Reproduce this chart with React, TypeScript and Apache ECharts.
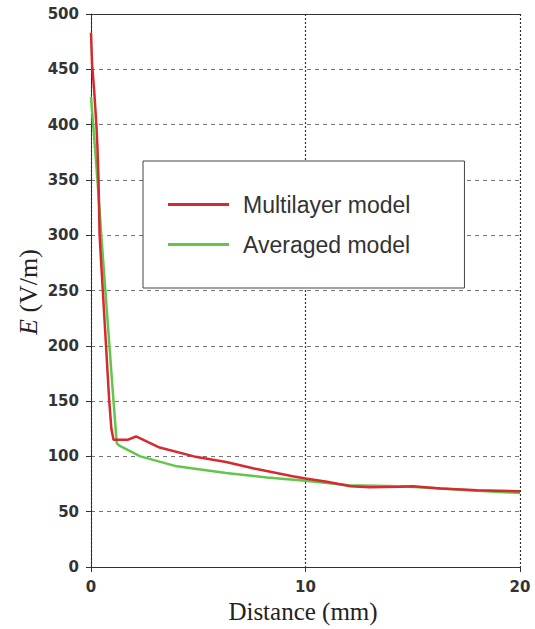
import React, { useEffect, useRef } from "react";
import * as echarts from "echarts";

const multilayerX = [0, 0.05, 0.15, 0.25, 0.3, 0.35, 0.4, 0.55, 0.7, 0.85, 0.95, 1.05, 1.7, 2.1, 3.2, 4.8, 6.3, 7.6, 9.4, 10, 11, 12.1, 13, 14.4, 15, 16.3, 18, 20];
const multilayerY = [483, 455, 430, 400, 380, 350, 300, 250, 200, 150, 125, 115, 115, 118, 108, 100, 95, 89, 82, 80, 77, 73, 72, 72.5, 73, 71, 69.5, 68.5];

const averagedX = [0, 0.1, 0.3, 0.48, 0.67, 0.86, 1.05, 1.2, 1.3, 2.3, 4, 6.3, 8.2, 10, 12, 14.4, 16.3, 18, 20];
const averagedY = [425, 400, 350, 300, 250, 200, 150, 112, 110, 100, 91, 85, 81, 78, 74, 73, 71, 69, 67];

const seriesNames = ["Multilayer model", "Averaged model"];
const xTitle = "Distance (mm)";
const yTitle = "{i|E} (V/m)";

const zip = (xs: number[], ys: number[]) => xs.map((x, i) => [x, ys[i]]);

export default function App() {
  const ref = useRef<HTMLDivElement>(null);
  useEffect(() => {
    if (!ref.current) return;
    const chart = echarts.init(ref.current, null, { renderer: "svg" });
    const tickFont = { fontFamily: "DejaVu Sans", fontSize: 15, fontWeight: "bold" as const, color: "#333" };
    chart.setOption({
      animation: false,
      backgroundColor: "#fff",
      grid: { left: 91, right: 15, top: 14, bottom: 62 },
      legend: {
        left: 143,
        top: 161,
        orient: "vertical",
        padding: [31, 54, 31, 25],
        itemGap: 15,
        itemWidth: 61,
        itemHeight: 3,
        icon: "rect",
        backgroundColor: "#fff",
        borderColor: "#444",
        borderWidth: 1,
        borderRadius: 0,
        textStyle: { fontFamily: "Liberation Sans", fontSize: 23, color: "#333", lineHeight: 25, padding: [0, 0, 0, 9] },
        data: seriesNames,
      },
      xAxis: [
        {
          type: "value",
          min: 0,
          max: 20,
          interval: 10,
          axisLine: { show: true, lineStyle: { color: "#333", width: 1 } },
          axisTick: { show: true, length: 5, lineStyle: { color: "#333" } },
          axisLabel: { ...tickFont, margin: 12 },
          splitLine: { show: true, lineStyle: { type: [2, 2], color: "#333", width: 1.2 } },
        },
        {
          type: "value",
          position: "top",
          min: 0,
          max: 20,
          axisLine: { show: true, onZero: false, lineStyle: { color: "#333", width: 1 } },
          axisTick: { show: false },
          axisLabel: { show: false },
          splitLine: { show: false },
        },
      ],
      yAxis: {
        type: "value",
        min: 0,
        max: 500,
        interval: 50,
        axisLine: { show: true, lineStyle: { color: "#333", width: 1 } },
        axisTick: { show: true, length: 5, lineStyle: { color: "#333" } },
        axisLabel: { ...tickFont, margin: 12 },
        splitLine: { show: true, lineStyle: { type: [4, 4], color: "#777", width: 1.2 } },
      },
      graphic: [
        {
          type: "text",
          x: 303,
          y: 611,
          style: {
            text: xTitle,
            fontFamily: "Liberation Serif",
            fontSize: 25,
            fill: "#222",
            align: "center",
            verticalAlign: "middle",
          },
        },
        {
          type: "text",
          x: 28,
          y: 292,
          rotation: Math.PI / 2,
          style: {
            text: yTitle,
            fontFamily: "Liberation Serif",
            fontSize: 26,
            fill: "#222",
            align: "center",
            verticalAlign: "middle",
            rich: {
              i: { fontFamily: "Liberation Serif", fontStyle: "italic", fontSize: 26, fill: "#222" },
            },
          },
        },
      ],
      series: [
        {
          name: seriesNames[0],
          type: "line",
          data: zip(multilayerX, multilayerY),
          symbol: "none",
          lineStyle: { color: "#d42a30", width: 2.5 },
          itemStyle: { color: "#d42a30" },
          z: 3,
        },
        {
          name: seriesNames[1],
          type: "line",
          data: zip(averagedX, averagedY),
          symbol: "none",
          lineStyle: { color: "#62c64a", width: 2.5 },
          itemStyle: { color: "#62c64a" },
          z: 2,
        },
      ],
    });
    return () => chart.dispose();
  }, []);
  return <div ref={ref} style={{ position: "fixed", left: 0, top: 0, width: 535, height: 629 }} />;
}
